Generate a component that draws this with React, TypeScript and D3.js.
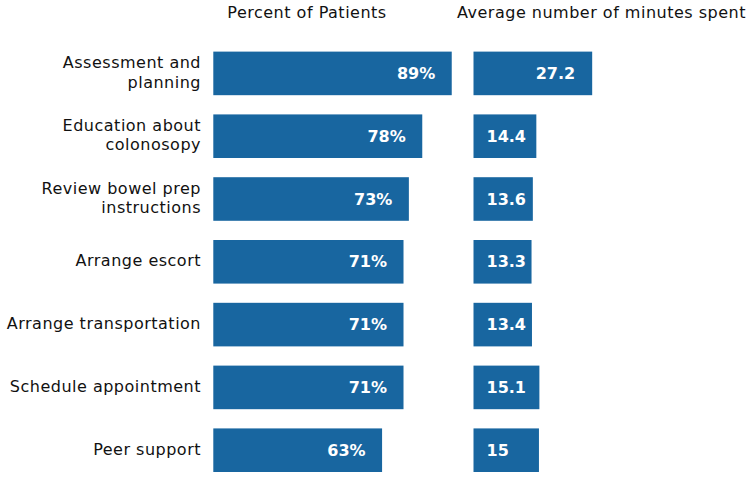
import React from "react";
import * as d3 from "d3";

const categories: string[][] = [
  ["Assessment and", "planning"],
  ["Education about", "colonosopy"],
  ["Review bowel prep", "instructions"],
  ["Arrange escort"],
  ["Arrange transportation"],
  ["Schedule appointment"],
  ["Peer support"],
];
const percentValues = [89, 78, 73, 71, 71, 71, 63];
const minuteValues = [27.2, 14.4, 13.6, 13.3, 13.4, 15.1, 15];
const leftTitle = "Percent of Patients";
const rightTitle = "Average number of minutes spent";

const W = 750;
const H = 478;
const BLUE = "#1866a0";
const LABEL_FONT = "'DejaVu Sans', sans-serif";
const VALUE_FONT = "'DejaVu Sans', sans-serif";

export default function App() {
  const idx = categories.map((_, i) => i);
  const y = d3
    .scaleBand<number>()
    .domain(idx)
    .range([42, 481.6])
    .paddingInner(0.306)
    .paddingOuter(0.153);
  const xL = d3.scaleLinear().domain([0, 100]).range([213.3, 481.2]);
  const xR = d3.scaleLinear().domain([0, 30]).range([473.5, 604.4]);
  const bw = y.bandwidth();

  return (
    <svg
      width={W}
      height={H}
      style={{ position: "absolute", left: 0, top: 0, background: "#fff" }}
    >
      <text
        x={307}
        y={17.5}
        textAnchor="middle"
        fontFamily={LABEL_FONT}
        fontSize={16}
        letterSpacing={0.5}
        fill="#111"
      >
        {leftTitle}
      </text>
      <text
        x={601.5}
        y={17.5}
        textAnchor="middle"
        fontFamily={LABEL_FONT}
        fontSize={16}
        letterSpacing={0.5}
        fill="#111"
      >
        {rightTitle}
      </text>
      {idx.map((i) => {
        const top = y(i)!;
        const cy = top + bw / 2;
        const lines = categories[i];
        const lh = 19.4;
        const base0 = cy + 4.5 - ((lines.length - 1) * lh) / 2;
        const pv = percentValues[i];
        const mv = minuteValues[i];
        const rw = xR(mv) - xR(0);
        return (
          <g key={i}>
            <text
              textAnchor="end"
              fontFamily={LABEL_FONT}
              fontSize={16}
              letterSpacing={0.5}
              fill="#111"
            >
              {lines.map((l, j) => (
                <tspan key={j} x={201} y={base0 + j * lh}>
                  {l}
                </tspan>
              ))}
            </text>
            <rect
              x={xL(0)}
              y={top}
              width={xL(pv) - xL(0)}
              height={bw}
              fill={BLUE}
            />
            <text
              x={xL(pv) - 16.5}
              y={cy + 5.5}
              textAnchor="end"
              fontFamily={VALUE_FONT}
              fontWeight="bold"
              fontSize={16}
              fill="#fff"
            >
              {pv + "%"}
            </text>
            <rect
              x={xR(0)}
              y={top}
              width={rw}
              height={bw}
              fill={BLUE}
            />
            <text
              x={rw > 80 ? xR(mv) - 17 : xR(0) + 13}
              y={cy + 5.5}
              textAnchor={rw > 80 ? "end" : "start"}
              fontFamily={VALUE_FONT}
              fontWeight="bold"
              fontSize={16}
              fill="#fff"
            >
              {String(mv)}
            </text>
          </g>
        );
      })}
    </svg>
  );
}
